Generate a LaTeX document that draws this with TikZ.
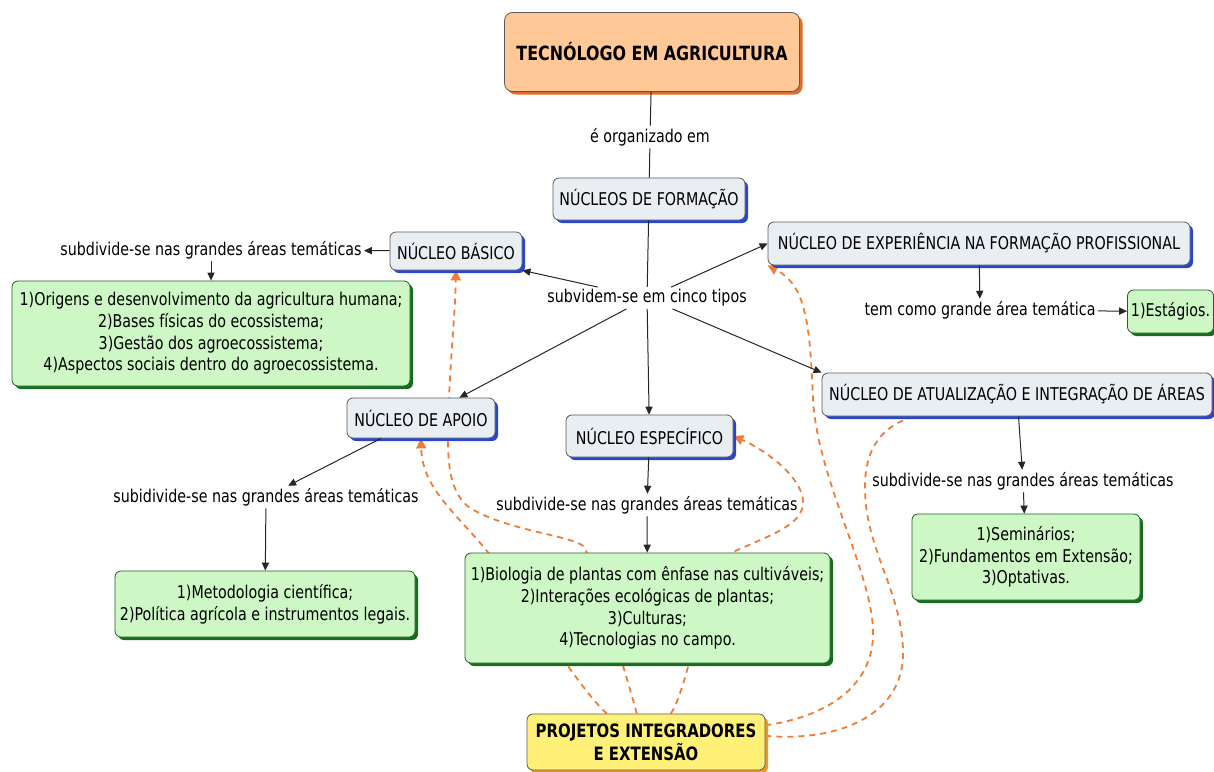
\documentclass[tikz,border=0pt]{standalone}
\usepackage{fontspec}
\setmainfont{DejaVu Sans}[FakeStretch=0.81]
\usetikzlibrary{arrows.meta,shadows,backgrounds}

\definecolor{boxline}{RGB}{90,90,90}
\definecolor{nucfill}{RGB}{233,238,243}
\definecolor{nucshadow}{RGB}{40,70,210}
\definecolor{temafill}{RGB}{205,247,197}
\definecolor{temaline}{RGB}{40,90,40}
\definecolor{temashadow}{RGB}{20,110,30}
\definecolor{titfill}{RGB}{255,200,150}
\definecolor{titshadow}{RGB}{225,110,40}
\definecolor{projfill}{RGB}{255,241,120}
\definecolor{projshadow}{RGB}{240,150,40}
\definecolor{traco}{RGB}{240,125,55}

\begin{document}
\begin{tikzpicture}[x=0.5pt, y=-0.5pt, >={Triangle[length=4pt,width=3.6pt]},
  every node/.style={font=\fontsize{8.8}{10.8}\selectfont, align=center},
  nucleo/.style={draw=boxline, fill=nucfill, rounded corners=3pt, inner sep=0pt,
    drop shadow={shadow xshift=1.5pt, shadow yshift=-1.5pt, fill=nucshadow, opacity=1}},
  tema/.style={draw=temaline, fill=temafill, rounded corners=3pt, inner sep=0pt,
    drop shadow={shadow xshift=1.5pt, shadow yshift=-1.5pt, fill=temashadow, opacity=1}},
  titulo/.style={draw=boxline, fill=titfill, rounded corners=4pt, inner sep=0pt,
    font=\bfseries\fontsize{9.8}{12}\selectfont,
    drop shadow={shadow xshift=1.5pt, shadow yshift=-1.5pt, fill=titshadow, opacity=1}},
  projeto/.style={draw=boxline, fill=projfill, rounded corners=3pt, inner sep=0pt,
    font=\bfseries\fontsize{9.2}{11.5}\selectfont,
    drop shadow={shadow xshift=1.5pt, shadow yshift=-1.5pt, fill=projshadow, opacity=1}},
  frase/.style={inner sep=1pt},
  liga/.style={draw=black!85, line width=0.5pt},
  integra/.style={draw=traco, line width=0.9pt, dash pattern=on 3pt off 2.5pt},
  seta/.style={-{Triangle[length=5pt,width=5pt]}}
]
\useasboundingbox (0,0) rectangle (1214,771);

% conceitos
\node [titulo, minimum width=147.5pt, minimum height=39.5pt] (curso) at (652,52) {TECNÓLOGO EM AGRICULTURA};
\node [nucleo, minimum width=96pt, minimum height=21pt] (formacao) at (649,199) {NÚCLEOS DE FORMAÇÃO};
\node [nucleo, minimum width=66pt, minimum height=19pt] (basico) at (456,251) {NÚCLEO BÁSICO};
\node [nucleo, minimum width=211pt, minimum height=21.5pt] (experiencia) at (979,243.5) {NÚCLEO DE EXPERIÊNCIA NA FORMAÇÃO PROFISSIONAL};
\node [nucleo, minimum width=195pt, minimum height=21.5pt] (atualizacao) at (1017,394.5) {NÚCLEO DE ATUALIZAÇÃO E INTEGRAÇÃO DE ÁREAS};
\node [nucleo, minimum width=74pt, minimum height=20pt] (apoio) at (421,418) {NÚCLEO DE APOIO};
\node [nucleo, minimum width=83.5pt, minimum height=21pt] (especifico) at (649.5,436) {NÚCLEO ESPECÍFICO};

\node [tema, minimum width=199pt, minimum height=52.5pt] (tema-basico) at (211,333.5)
  {1)Origens e desenvolvimento da agricultura humana;\\ 2)Bases físicas do ecossistema;\\ 3)Gestão dos agroecossistema;\\ 4)Aspectos sociais dentro do agroecossistema.};
\node [tema, minimum width=43pt, minimum height=21.5pt] (tema-exp) at (1170.5,311.5) {1)Estágios.};
\node [tema, minimum width=114pt, minimum height=43pt] (tema-atual) at (1026,557)
  {1)Seminários;\\ 2)Fundamentos em Extensão;\\ 3)Optativas.};
\node [tema, minimum width=150pt, minimum height=33pt] (tema-apoio) at (265,604)
  {1)Metodologia científica;\\ 2)Política agrícola e instrumentos legais.};
\node [tema, minimum width=182.5pt, minimum height=55pt] (tema-espec) at (647.5,608)
  {1)Biologia de plantas com ênfase nas cultiváveis;\\ 2)Interações ecológicas de plantas;\\ 3)Culturas;\\ 4)Tecnologias no campo.};

\node [projeto, minimum width=119pt, minimum height=28pt] (projetos) at (646,742) {PROJETOS INTEGRADORES\\ E EXTENSÃO};

% frases de ligacao
\node [frase] (organizado) at (650,137) {é organizado em};
\node [frase] (tipos) at (647,298) {subvidem-se em cinco tipos};
\node [frase] (areas-basico) at (211,250) {subdivide-se nas grandes áreas temáticas};
\node [frase] (areas-exp) at (980,310) {tem como grande área temática};
\node [frase] (areas-atual) at (1023,481) {subdivide-se nas grandes áreas temáticas};
\node [frase] (areas-apoio) at (266,497) {subidivide-se nas grandes áreas temáticas};
\node [frase] (areas-espec) at (647,505) {subdivide-se nas grandes áreas temáticas};

\draw [liga] (curso) -- (organizado);
\draw [liga] (organizado) -- (formacao);
\draw [liga] (formacao) -- (tipos);

\foreach \alvo in {basico.south east, experiencia.west, atualizacao.north west, apoio, especifico}
  \draw [liga, ->] (tipos) -- (\alvo);

\foreach \de/\para in {basico/areas-basico, areas-basico/tema-basico,
    experiencia/areas-exp, areas-exp/tema-exp,
    atualizacao/areas-atual, areas-atual/tema-atual,
    apoio/areas-apoio, areas-apoio/tema-apoio,
    especifico/areas-espec, areas-espec/tema-espec}
  \draw [liga, ->] (\de) -- (\para);

% projetos integradores
\begin{pgfonlayer}{background}
\draw [integra, seta] (projetos.108) .. controls (628,680) and (600,590) .. (585,548)
  .. controls (578,536) and (510,532) .. (470,508)
  .. controls (452,495) and (448,470) .. (448,440)
  .. controls (448,380) and (455,320) .. (basico.south);
\draw [integra, seta] (projetos.144) .. controls (575,685) and (520,590) .. (482,545)
  .. controls (450,508) and (422,485) .. (apoio.south);
\draw [integra, seta] (projetos.49) .. controls (688,690) and (700,590) .. (733,552)
  .. controls (770,535) and (805,525) .. (803,500)
  .. controls (800,475) and (765,450) .. (especifico.east);
\draw [integra, seta] (projetos.8) .. controls (820,718) and (875,690) .. (873,630)
  .. controls (871,570) and (818,480) .. (813,400)
  .. controls (810,320) and (805,285) .. (experiencia.south west);
\draw [integra] (projetos.3) .. controls (830,742) and (905,720) .. (903,650)
  .. controls (901,590) and (866,550) .. (865,490)
  .. controls (864,445) and (885,425) .. (atualizacao.192);
\end{pgfonlayer}

\end{tikzpicture}
\end{document}
